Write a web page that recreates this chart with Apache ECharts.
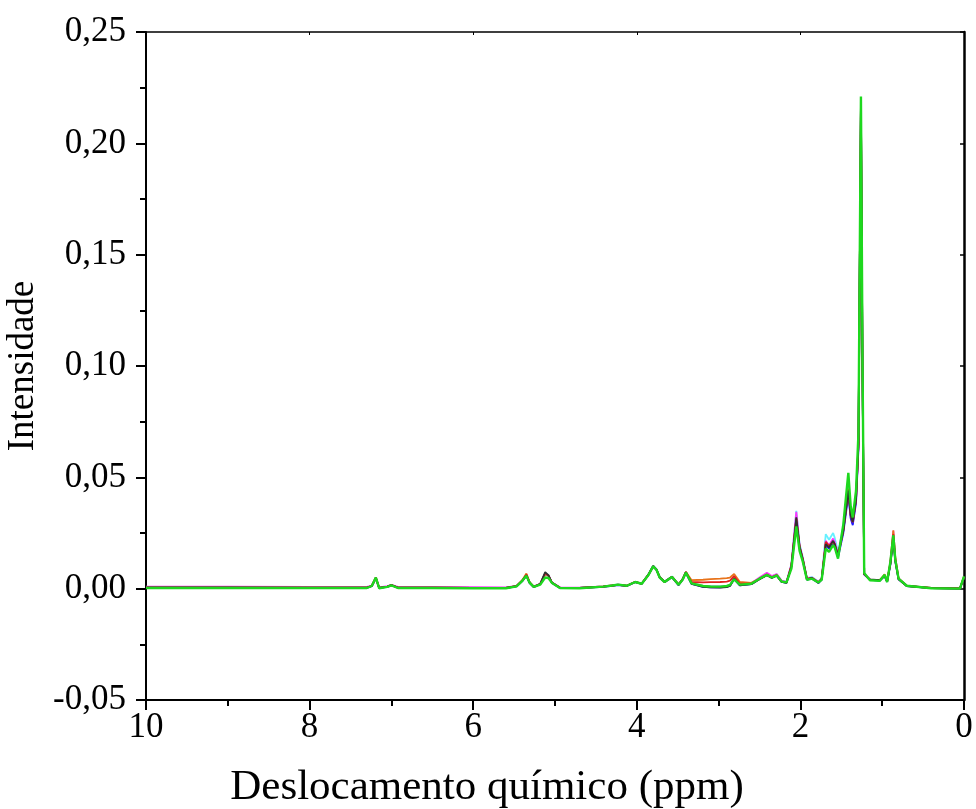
<!DOCTYPE html>
<html>
<head>
<meta charset="utf-8">
<script src="https://cdn.jsdelivr.net/npm/echarts@6/dist/echarts.min.js"></script>
<style>
  html, body { margin: 0; padding: 0; background: #ffffff; }
  #chart { width: 976px; height: 809px; }
</style>
</head>
<body>
<div id="chart"></div>
<script>
// Chemical shift axis (ppm), shared by every spectrum
const ppm = [10.0, 9.0, 8.0, 7.5, 7.30, 7.24, 7.19, 7.15, 7.05, 7.00, 6.92, 6.5, 6.0, 5.6, 5.47, 5.40, 5.35, 5.31, 5.26, 5.18,
  5.12, 5.08, 5.04, 4.94, 4.7, 4.41, 4.30, 4.23, 4.12, 4.02, 3.94, 3.86, 3.80, 3.76, 3.72, 3.66, 3.57, 3.49, 3.44, 3.40,
  3.33, 3.19, 3.10, 2.98, 2.90, 2.86, 2.81, 2.74, 2.60, 2.50, 2.41, 2.35, 2.29, 2.23, 2.17, 2.11, 2.05, 2.01, 1.97, 1.92,
  1.86, 1.78, 1.74, 1.69, 1.65, 1.60, 1.58, 1.54, 1.475, 1.414, 1.385, 1.36, 1.32, 1.29, 1.26, 1.24, 1.22, 1.15, 1.03, 0.97,
  0.94, 0.90, 0.864, 0.84, 0.80, 0.70, 0.40, 0.05, 0.0];

// Intensity of each sample spectrum
const amostraCiano = [0.0005, 0.0005, 0.0005, 0.0005, 0.0005, 0.0012, 0.0049, 0.0004, 0.0009, 0.0016, 0.0005, 0.0005, 0.0004, 0.0004, 0.0012, 0.0036, 0.0062, 0.0027, 0.0009, 0.0021,
  0.0070, 0.0062, 0.0029, 0.0005, 0.0004, 0.0010, 0.0015, 0.0019, 0.0014, 0.0031, 0.0023, 0.0064, 0.0104, 0.0088, 0.0053, 0.0032, 0.0055, 0.0019, 0.0043, 0.0075,
  0.0025, 0.0012, 0.0010, 0.0010, 0.0012, 0.0018, 0.0048, 0.0019, 0.0024, 0.0048, 0.0066, 0.0054, 0.0064, 0.0035, 0.0031, 0.0110, 0.0350, 0.0200, 0.0140, 0.0048,
  0.0052, 0.0032, 0.0048, 0.0245, 0.0220, 0.0250, 0.0228, 0.0165, 0.0280, 0.0460, 0.0340, 0.0305, 0.0410, 0.0660, 0.2150, 0.0960, 0.0068, 0.0040, 0.0036, 0.0060,
  0.0031, 0.0115, 0.0240, 0.0130, 0.0044, 0.0013, 0.0003, 0.0001, 0.0052];

const amostraMagenta = [0.0009, 0.0009, 0.0008, 0.0008, 0.0008, 0.0014, 0.0050, 0.0006, 0.0011, 0.0017, 0.0008, 0.0008, 0.0007, 0.0006, 0.0013, 0.0037, 0.0064, 0.0028, 0.0010, 0.0022,
  0.0068, 0.0060, 0.0029, 0.0006, 0.0005, 0.0010, 0.0015, 0.0018, 0.0014, 0.0031, 0.0023, 0.0063, 0.0101, 0.0086, 0.0052, 0.0031, 0.0054, 0.0019, 0.0042, 0.0073,
  0.0024, 0.0011, 0.0009, 0.0009, 0.0011, 0.0016, 0.0046, 0.0018, 0.0024, 0.0050, 0.0072, 0.0057, 0.0066, 0.0036, 0.0030, 0.0108, 0.0345, 0.0195, 0.0135, 0.0046,
  0.0050, 0.0030, 0.0045, 0.0215, 0.0195, 0.0225, 0.0210, 0.0155, 0.0270, 0.0430, 0.0320, 0.0290, 0.0395, 0.0640, 0.2160, 0.0940, 0.0066, 0.0041, 0.0037, 0.0059,
  0.0032, 0.0118, 0.0260, 0.0138, 0.0046, 0.0014, 0.0004, 0.0001, 0.0054];

const amostraAzul = [0.0004, 0.0004, 0.0004, 0.0004, 0.0004, 0.0011, 0.0047, 0.0003, 0.0008, 0.0015, 0.0004, 0.0004, 0.0003, 0.0003, 0.0010, 0.0034, 0.0058, 0.0025, 0.0007, 0.0020,
  0.0066, 0.0058, 0.0027, 0.0003, 0.0003, 0.0008, 0.0013, 0.0016, 0.0012, 0.0029, 0.0021, 0.0060, 0.0099, 0.0084, 0.0050, 0.0029, 0.0051, 0.0016, 0.0040, 0.0071,
  0.0021, 0.0008, 0.0006, 0.0006, 0.0008, 0.0013, 0.0043, 0.0015, 0.0020, 0.0043, 0.0061, 0.0049, 0.0058, 0.0030, 0.0026, 0.0098, 0.0300, 0.0180, 0.0125, 0.0040,
  0.0046, 0.0025, 0.0041, 0.0195, 0.0180, 0.0200, 0.0190, 0.0140, 0.0250, 0.0420, 0.0315, 0.0285, 0.0385, 0.0630, 0.2170, 0.0930, 0.0063, 0.0040, 0.0036, 0.0056,
  0.0031, 0.0108, 0.0230, 0.0122, 0.0042, 0.0012, 0.0002, 0.0000, 0.0050];

const amostraLaranja = [0.0005, 0.0005, 0.0005, 0.0005, 0.0005, 0.0013, 0.0051, 0.0004, 0.0009, 0.0016, 0.0005, 0.0005, 0.0004, 0.0004, 0.0012, 0.0038, 0.0068, 0.0029, 0.0009, 0.0020,
  0.0066, 0.0058, 0.0028, 0.0005, 0.0004, 0.0010, 0.0015, 0.0018, 0.0014, 0.0031, 0.0023, 0.0062, 0.0101, 0.0086, 0.0052, 0.0031, 0.0054, 0.0019, 0.0043, 0.0076,
  0.0038, 0.0040, 0.0043, 0.0045, 0.0047, 0.0050, 0.0066, 0.0030, 0.0026, 0.0044, 0.0062, 0.0050, 0.0060, 0.0032, 0.0028, 0.0102, 0.0310, 0.0185, 0.0130, 0.0043,
  0.0048, 0.0028, 0.0043, 0.0205, 0.0190, 0.0210, 0.0198, 0.0148, 0.0265, 0.0450, 0.0335, 0.0300, 0.0405, 0.0655, 0.2175, 0.0950, 0.0066, 0.0041, 0.0038, 0.0064,
  0.0033, 0.0120, 0.0262, 0.0140, 0.0046, 0.0013, 0.0003, 0.0001, 0.0053];

const amostraVermelha = [0.0005, 0.0005, 0.0005, 0.0005, 0.0005, 0.0012, 0.0049, 0.0004, 0.0009, 0.0016, 0.0005, 0.0005, 0.0004, 0.0004, 0.0011, 0.0036, 0.0063, 0.0027, 0.0008, 0.0021,
  0.0069, 0.0060, 0.0028, 0.0004, 0.0003, 0.0009, 0.0014, 0.0017, 0.0013, 0.0030, 0.0022, 0.0061, 0.0100, 0.0085, 0.0051, 0.0030, 0.0053, 0.0018, 0.0042, 0.0074,
  0.0030, 0.0028, 0.0029, 0.0030, 0.0032, 0.0036, 0.0056, 0.0022, 0.0022, 0.0044, 0.0063, 0.0051, 0.0061, 0.0032, 0.0028, 0.0104, 0.0315, 0.0188, 0.0132, 0.0044,
  0.0049, 0.0029, 0.0044, 0.0210, 0.0192, 0.0212, 0.0200, 0.0150, 0.0262, 0.0445, 0.0330, 0.0298, 0.0402, 0.0650, 0.2165, 0.0945, 0.0065, 0.0041, 0.0037, 0.0060,
  0.0032, 0.0114, 0.0245, 0.0132, 0.0044, 0.0013, 0.0003, 0.0001, 0.0052];

const amostraPreta = [0.0006, 0.0006, 0.0005, 0.0005, 0.0005, 0.0012, 0.0048, 0.0004, 0.0009, 0.0016, 0.0005, 0.0005, 0.0003, 0.0003, 0.0011, 0.0035, 0.0060, 0.0026, 0.0008, 0.0022,
  0.0074, 0.0060, 0.0028, 0.0004, 0.0003, 0.0009, 0.0014, 0.0017, 0.0013, 0.0030, 0.0022, 0.0062, 0.0102, 0.0087, 0.0052, 0.0031, 0.0053, 0.0017, 0.0042, 0.0074,
  0.0022, 0.0008, 0.0006, 0.0005, 0.0007, 0.0012, 0.0045, 0.0015, 0.0020, 0.0042, 0.0060, 0.0048, 0.0058, 0.0030, 0.0026, 0.0100, 0.0320, 0.0190, 0.0130, 0.0042,
  0.0048, 0.0026, 0.0042, 0.0200, 0.0185, 0.0215, 0.0200, 0.0150, 0.0260, 0.0440, 0.0330, 0.0300, 0.0400, 0.0650, 0.2180, 0.0950, 0.0065, 0.0042, 0.0038, 0.0058,
  0.0032, 0.0110, 0.0225, 0.0125, 0.0042, 0.0012, 0.0002, 0.0000, 0.0050];

const amostraVerde = [0.0003, 0.0003, 0.0003, 0.0003, 0.0003, 0.0012, 0.0050, 0.0002, 0.0008, 0.0015, 0.0003, 0.0003, 0.0002, 0.0002, 0.0010, 0.0035, 0.0058, 0.0027, 0.0008, 0.0018,
  0.0050, 0.0048, 0.0027, 0.0003, 0.0002, 0.0009, 0.0014, 0.0018, 0.0013, 0.0030, 0.0022, 0.0060, 0.0100, 0.0085, 0.0050, 0.0030, 0.0052, 0.0018, 0.0040, 0.0072,
  0.0024, 0.0012, 0.0010, 0.0009, 0.0012, 0.0017, 0.0042, 0.0018, 0.0022, 0.0045, 0.0062, 0.0050, 0.0060, 0.0032, 0.0028, 0.0090, 0.0280, 0.0170, 0.0120, 0.0040,
  0.0045, 0.0028, 0.0040, 0.0180, 0.0165, 0.0195, 0.0185, 0.0135, 0.0290, 0.0520, 0.0370, 0.0320, 0.0440, 0.0700, 0.2210, 0.1000, 0.0070, 0.0038, 0.0035, 0.0062,
  0.0030, 0.0120, 0.0240, 0.0130, 0.0045, 0.0013, 0.0002, 0.0000, 0.0055];

const espectros = [
  { nome: 'Ciano', valores: amostraCiano, cor: '#66f0ff' },
  { nome: 'Magenta', valores: amostraMagenta, cor: '#ff33ff' },
  { nome: 'Azul', valores: amostraAzul, cor: '#1a1aff' },
  { nome: 'Laranja', valores: amostraLaranja, cor: '#e8731a' },
  { nome: 'Vermelha', valores: amostraVermelha, cor: '#e02020' },
  { nome: 'Preta', valores: amostraPreta, cor: '#303030' },
  { nome: 'Verde', valores: amostraVerde, cor: '#1ed81e' }
];

const fonte = '"Liberation Serif", "Times New Roman", serif';
const virgula = v => v.toFixed(2).replace('.', ',');

const chart = echarts.init(document.getElementById('chart'));
chart.setOption({
  animation: false,
  backgroundColor: '#ffffff',
  grid: { left: 146, right: 12, top: 32, bottom: 109, containLabel: false, outerBoundsMode: 'none' },
  xAxis: [
    {
      type: 'value', min: 0, max: 10, interval: 2, inverse: true,
      name: 'Deslocamento químico (ppm)', nameLocation: 'middle', nameGap: 66,
      nameTextStyle: { fontFamily: fonte, fontSize: 43, color: '#000', padding: [0, 136, 0, 0] },
      axisLine: { onZero: false, lineStyle: { color: '#000', width: 2 } },
      axisTick: { inside: false, length: 10, lineStyle: { color: '#000', width: 2 } },
      minorTick: { show: true, splitNumber: 2, length: 6, lineStyle: { color: '#000', width: 2 } },
      axisLabel: { fontFamily: fonte, fontSize: 35, color: '#000', margin: 10 },
      splitLine: { show: false }
    },
    {
      type: 'value', min: 0, max: 10, interval: 2, inverse: true, position: 'top',
      axisLine: { onZero: false, lineStyle: { color: '#000', width: 1.5 } },
      axisTick: { inside: true, length: 3, lineStyle: { color: '#000', width: 1 } },
      axisLabel: { show: false }, splitLine: { show: false }
    }
  ],
  yAxis: [
    {
      type: 'value', min: -0.05, max: 0.25, interval: 0.05,
      name: 'Intensidade', nameLocation: 'middle', nameGap: 104,
      nameTextStyle: { fontFamily: fonte, fontSize: 37, color: '#000' },
      axisLine: { onZero: false, lineStyle: { color: '#000', width: 2 } },
      axisTick: { inside: false, length: 10, lineStyle: { color: '#000', width: 2 } },
      minorTick: { show: true, splitNumber: 2, length: 6, lineStyle: { color: '#000', width: 2 } },
      axisLabel: { fontFamily: fonte, fontSize: 35, color: '#000', margin: 20, formatter: virgula },
      splitLine: { show: false }
    },
    {
      type: 'value', min: -0.05, max: 0.25, interval: 0.05, position: 'right',
      axisLine: { onZero: false, lineStyle: { color: '#000', width: 2.5 } },
      axisTick: { inside: true, length: 4, lineStyle: { color: '#000', width: 1.5 } },
      axisLabel: { show: false }, splitLine: { show: false }
    }
  ],
  series: espectros.map(e => ({
    name: e.nome,
    type: 'line',
    xAxisIndex: 0,
    yAxisIndex: 0,
    showSymbol: false,
    symbol: 'none',
    clip: true,
    lineStyle: { color: e.cor, width: e.nome === 'Verde' ? 2.4 : 1.8 },
    data: ppm.map((x, i) => [x, e.valores[i]])
  }))
});
</script>
</body>
</html>
